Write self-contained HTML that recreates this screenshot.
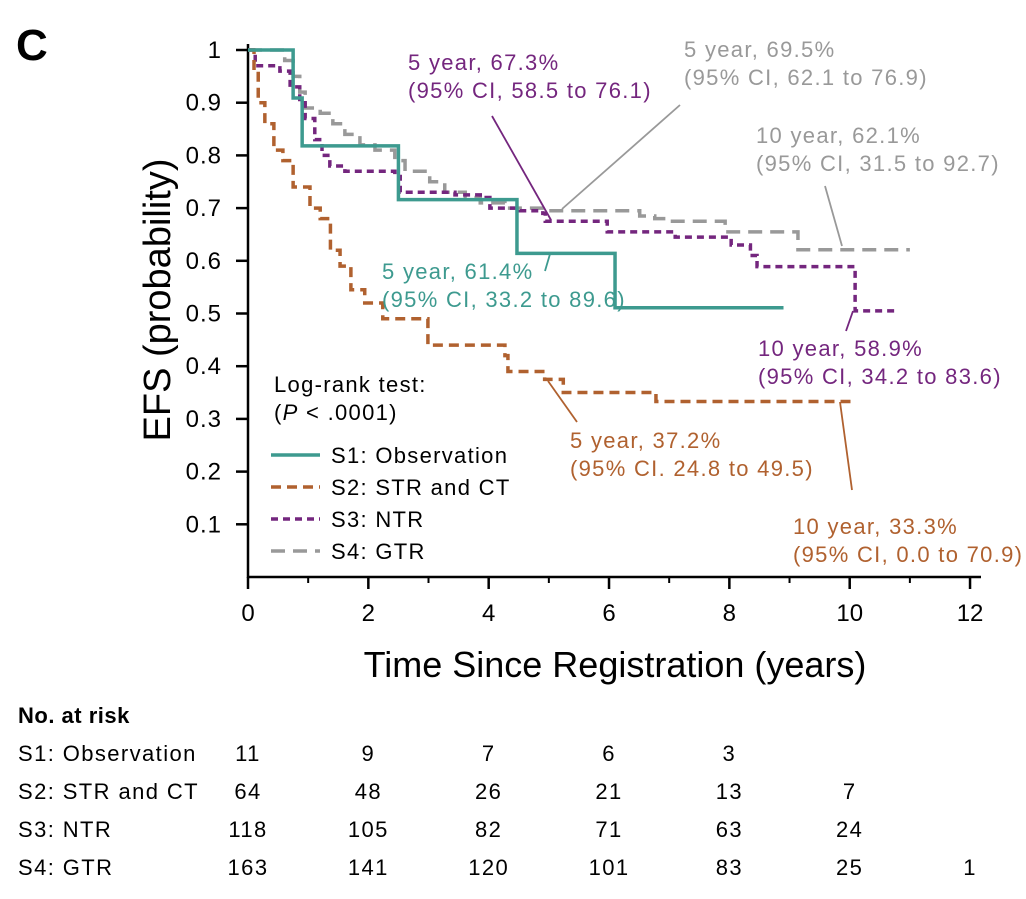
<!DOCTYPE html>
<html><head><meta charset="utf-8"><style>
body{margin:0;background:#fff;font-family:"Liberation Sans",sans-serif}
svg text{font-family:"Liberation Sans",sans-serif}
</style></head><body>
<svg width="1026" height="894" xmlns="http://www.w3.org/2000/svg">
<text x="16" y="60" font-size="44" font-weight="bold">C</text>
<g id="axes"></g>
<g id="curves"></g>
<g id="annot" font-size="22" letter-spacing="1.3"></g>
<g id="risk" font-size="22" letter-spacing="1.4"></g>
</svg>
<script>
const s1T=[0,0.75,0.9,2.5,4.47,6.1,8.9];
const s1S=[1,0.909,0.818,0.716,0.614,0.511,0.511];
const s2T=[0,0.1,0.17,0.28,0.43,0.58,0.75,1.03,1.2,1.37,1.53,1.71,1.94,2.24,2.99,4.27,4.32,4.93,5.24,6.78,10.04];
const s2S=[1,0.96,0.9,0.86,0.81,0.79,0.74,0.70,0.68,0.62,0.59,0.545,0.52,0.49,0.44,0.42,0.39,0.375,0.35,0.333,0.333];
const s3T=[0,0.12,0.53,0.7,0.86,0.95,1.11,1.23,1.36,1.61,2.44,2.53,3.44,3.86,4.02,4.52,4.9,4.94,5.97,7.1,8.03,8.35,8.46,10.09,10.79];
const s3S=[1,0.97,0.96,0.93,0.90,0.87,0.83,0.80,0.78,0.77,0.76,0.73,0.725,0.72,0.70,0.695,0.69,0.675,0.655,0.645,0.63,0.61,0.589,0.505,0.505];
const s4T=[0,0.61,0.75,0.86,0.95,1.2,1.41,1.61,1.86,2.11,2.44,2.61,3.02,3.27,3.61,3.86,4.27,4.94,6.51,6.76,6.96,7.93,9.14,11.0];
const s4S=[1,0.98,0.95,0.92,0.89,0.88,0.86,0.84,0.82,0.81,0.79,0.77,0.75,0.73,0.72,0.71,0.70,0.695,0.685,0.68,0.675,0.655,0.621,0.621];
const xTicks=[0,2,4,6,8,10,12];
const yTicks=[0.1,0.2,0.3,0.4,0.5,0.6,0.7,0.8,0.9,1];
const riskRows=["S1: Observation","S2: STR and CT","S3: NTR","S4: GTR"];
const risk1=[11,9,7,6,3];
const risk2=[64,48,26,21,13,7];
const risk3=[118,105,82,71,63,24];
const risk4=[163,141,120,101,83,25,1];

const NS="http://www.w3.org/2000/svg";
const X=t=>248+t*60.17, Y=s=>577-s*527;
function mk(tag,attrs,parent,txt){const e=document.createElementNS(NS,tag);for(const k in attrs)e.setAttribute(k,attrs[k]);if(txt!==undefined)e.textContent=txt;parent.appendChild(e);return e;}
const ax=document.getElementById('axes');
let e=mk('line',{x1:248,y1:44,x2:248,y2:578,stroke:'#000','stroke-width':2.5},ax);


e=mk('line',{x1:247,y1:577,x2:981,y2:577,stroke:'#000','stroke-width':2.5},ax);


yTicks.forEach(v=>{
 mk('line',{x1:236,x2:248,y1:Y(v),y2:Y(v),stroke:'#000','stroke-width':2.5},ax);
 e=mk('text',{x:222,y:Y(v)+8,'text-anchor':'end','font-size':24,'letter-spacing':1},ax,v===1?'1':v.toFixed(1));
 
 
});
xTicks.forEach(v=>{
 mk('line',{x1:X(v),x2:X(v),y1:577,y2:589,stroke:'#000','stroke-width':2.5},ax);
 e=mk('text',{x:X(v),y:621,'text-anchor':'middle','font-size':24},ax,String(v));
 
 
});
for(let v=1;v<12;v+=2){mk('line',{x1:X(v),x2:X(v),y1:577,y2:583,stroke:'#000','stroke-width':2},ax);}
e=mk('text',{x:615,y:677,'text-anchor':'middle','font-size':36},ax,'Time Since Registration (years)');


e=mk('text',{x:0,y:0,'text-anchor':'middle','font-size':38,transform:'translate(170,300) rotate(-90)'},ax,'EFS (probability)');



const cv=document.getElementById('curves');
function step(T,S){let d='M'+X(T[0])+','+Y(S[0]);for(let i=1;i<T.length;i++){d+=' H'+X(T[i])+' V'+Y(S[i]);}return d;}
const series=[[s4T,s4S,'#999','14,8','curve-s4-gtr'],[s3T,s3S,'#74267e','7,5','curve-s3-ntr'],[s2T,s2S,'#b0612f','10,6','curve-s2-str-ct'],[s1T,s1S,'#3d9a8f','none','curve-s1-observation']];
series.forEach(s=>{e=mk('path',{d:step(s[0],s[1]),fill:'none',stroke:s[2],'stroke-width':3.5,'stroke-dasharray':s[3]},cv);
 
 });

const an=document.getElementById('annot');
function lbl(x,y,c,l1,l2,name){e=mk('text',{x:x,y:y,fill:c},an);
 mk('tspan',{x:x,dy:0},e,l1);mk('tspan',{x:x,dy:28},e,l2);}
function ln(x1,y1,x2,y2,c){mk('line',{x1,y1,x2,y2,stroke:c,'stroke-width':1.8},an);}
lbl(408,70,'#74267e','5 year, 67.3%','(95% CI, 58.5 to 76.1)','annotation-s3-5yr');ln(492,116,551,220,'#74267e');
lbl(684,57,'#999','5 year, 69.5%','(95% CI, 62.1 to 76.9)','annotation-s4-5yr');ln(680,105,562,209,'#999');
lbl(756,143,'#999','10 year, 62.1%','(95% CI, 31.5 to 92.7)','annotation-s4-10yr');ln(825,186,842,246,'#999');
lbl(382,279,'#3d9a8f','5 year, 61.4%','(95% CI, 33.2 to 89.6)','annotation-s1-5yr');ln(550,254,545,271,'#3d9a8f');
lbl(758,356,'#74267e','10 year, 58.9%','(95% CI, 34.2 to 83.6)','annotation-s3-10yr');ln(853,311,846,331,'#74267e');
lbl(570,448,'#b0612f','5 year, 37.2%','(95% CI. 24.8 to 49.5)','annotation-s2-5yr');ln(548,381,577,422,'#b0612f');
lbl(793,534,'#b0612f','10 year, 33.3%','(95% CI, 0.0 to 70.9)','annotation-s2-10yr');ln(840,402,852,490,'#b0612f');
e=mk('text',{x:274,y:392},an,'Log-rank test:');
e=mk('text',{x:274,y:420},an);
mk('tspan',{},e,'(');mk('tspan',{'font-style':'italic'},e,'P');mk('tspan',{},e,' < .0001)');
const leg=[['S1: Observation','#3d9a8f','none'],['S2: STR and CT','#b0612f','10,6'],['S3: NTR','#74267e','7,5'],['S4: GTR','#999','14,8']];
leg.forEach((l,i)=>{const y=455+i*32;
 e=mk('g',{},an);
 mk('line',{x1:271,x2:320,y1:y,y2:y,stroke:l[1],'stroke-width':3.5,'stroke-dasharray':l[2]},e);
 mk('text',{x:331,y:y+8,fill:'#000'},e,l[0]);});

const rk=document.getElementById('risk');
e=mk('text',{x:18,y:723,'font-weight':'bold','letter-spacing':0.5},rk,'No. at risk');
[risk1,risk2,risk3,risk4].forEach((arr,r)=>{const y=761+r*38;
 e=mk('text',{x:18,y:y},rk,riskRows[r]);
 arr.forEach((v,i)=>{e=mk('text',{x:X(xTicks[i]),y:y,'text-anchor':'middle'},rk,String(v));
 
 });
});
</script>
</body></html>
